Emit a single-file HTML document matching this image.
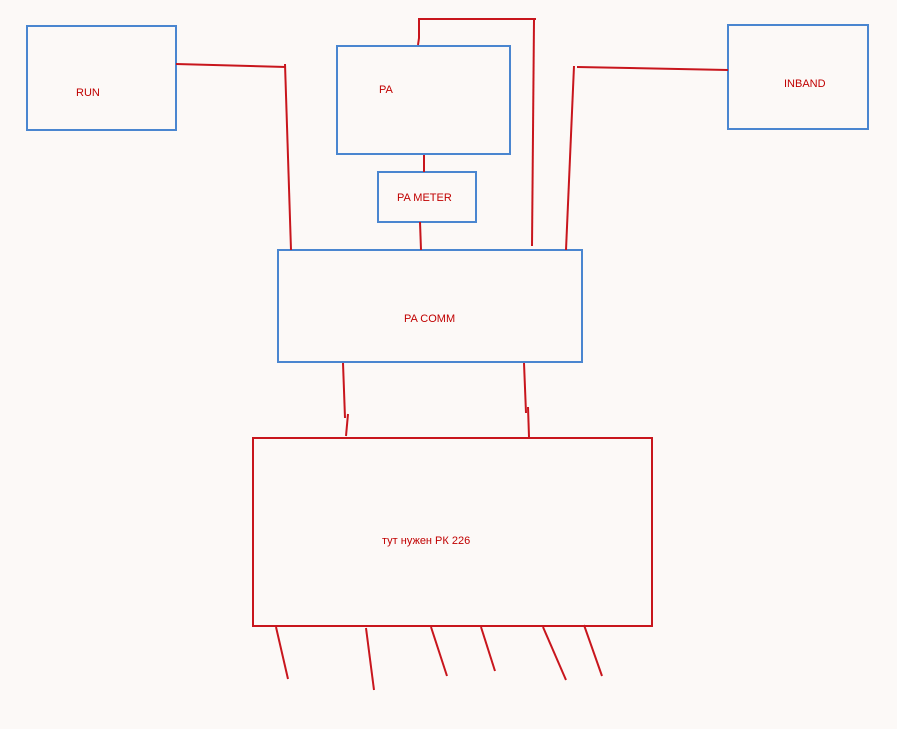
<!DOCTYPE html>
<html><head><meta charset="utf-8"><style>
html,body{margin:0;padding:0;background:#fcf9f7;}
svg{display:block;}
text{font-family:"Liberation Sans","DejaVu Sans",sans-serif;font-size:11px;fill:#c00000;}
</style></head><body>
<svg width="897" height="729" viewBox="0 0 897 729" xmlns="http://www.w3.org/2000/svg">
<rect width="897" height="729" fill="#fcf9f7"/>
<g fill="none" stroke="#4a86d0" stroke-width="2">
<rect x="27" y="26" width="149" height="104"/>
<rect x="337" y="46" width="173" height="108"/>
<rect x="378" y="172" width="98" height="50"/>
<rect x="728" y="25" width="140" height="104"/>
<rect x="278" y="250" width="304" height="112"/>
</g>
<g fill="none" stroke="#c8161d" stroke-width="2">
<rect x="253" y="438" width="399" height="188"/>
<line x1="176" y1="64" x2="286" y2="67"/>
<line x1="285" y1="64" x2="291" y2="250"/>
<polyline points="419,18 419,38 418,45"/>
<line x1="419" y1="19" x2="536" y2="19"/>
<line x1="534" y1="20" x2="532" y2="246"/>
<line x1="424" y1="155" x2="424" y2="172"/>
<line x1="420" y1="222" x2="421" y2="250"/>
<line x1="577" y1="67" x2="728" y2="70"/>
<line x1="574" y1="66" x2="566" y2="250"/>
<line x1="343" y1="363" x2="345" y2="418"/>
<line x1="348" y1="414" x2="346" y2="436"/>
<line x1="524" y1="363" x2="526" y2="413"/>
<line x1="528" y1="407" x2="529" y2="437"/>
<line x1="276" y1="627" x2="288" y2="679"/>
<line x1="366" y1="628" x2="374" y2="690"/>
<line x1="431" y1="627" x2="447" y2="676"/>
<line x1="481" y1="627" x2="495" y2="671"/>
<line x1="543" y1="627" x2="566" y2="680"/>
<line x1="584" y1="625" x2="602" y2="676"/>
</g>
<text x="76" y="96">RUN</text>
<text x="379" y="93">PA</text>
<text x="397" y="201">PA METER</text>
<text x="784" y="87">INBAND</text>
<text x="404" y="322">PA COMM</text>
<text x="382" y="544" style='font-family:"Liberation Sans","DejaVu Sans",sans-serif'>тут нужен РК 226</text>
</svg>
</body></html>
